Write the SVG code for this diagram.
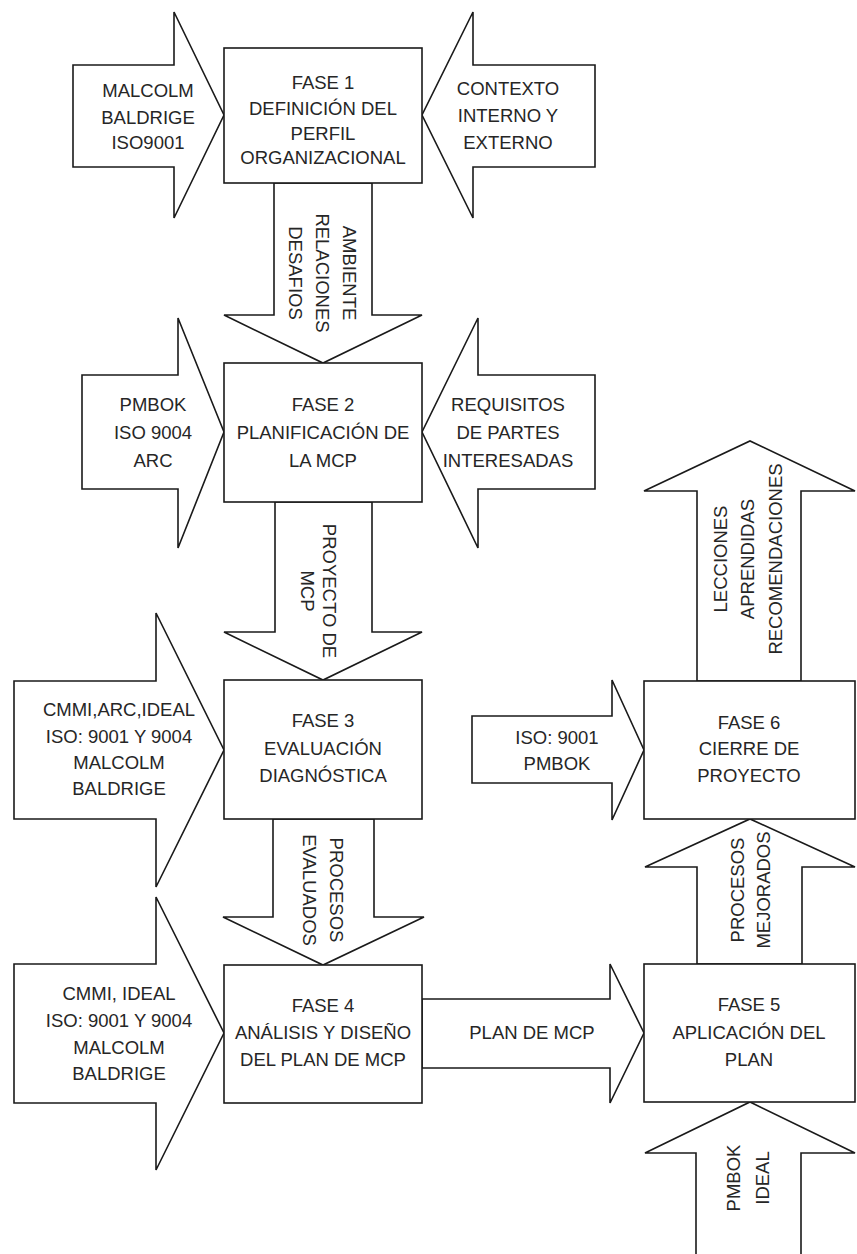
<svg xmlns="http://www.w3.org/2000/svg" width="857" height="1254" viewBox="0 0 857 1254">
<style>
.shp{fill:#fff;stroke:#1a1a1a;stroke-width:1.6;stroke-linejoin:miter}
.t{font-family:"Liberation Sans",Arial,sans-serif;font-size:18.5px;fill:#262626;text-anchor:middle}
</style>
<rect x="0" y="0" width="857" height="1254" fill="#fff"/>
<g id="connectors">
  <g id="c-f1-f2">
    <polygon class="shp" points="274,183 372,183 372,315 422,315 323,363 224,315 274,315"/>
    <text class="t" transform="translate(323,273) rotate(90)"><tspan x="0" y="-20.4">AMBIENTE</tspan><tspan x="0" y="6.6">RELACIONES</tspan><tspan x="0" y="33.6">DESAFIOS</tspan></text>
  </g>
  <g id="c-f2-f3">
    <polygon class="shp" points="275,502 372,502 372,632 422,632 323,680 224,632 275,632"/>
    <text class="t" transform="translate(319,591) rotate(90)"><tspan x="0" y="-4.4">PROYECTO DE</tspan><tspan x="0" y="17.6">MCP</tspan></text>
  </g>
  <g id="c-f3-f4">
    <polygon class="shp" points="273,819 374,819 374,917 424,917 323,965 223,917 273,917"/>
    <text class="t" transform="translate(323.5,890) rotate(90)"><tspan x="0" y="-6.9">PROCESOS</tspan><tspan x="0" y="20.1">EVALUADOS</tspan></text>
  </g>
  <g id="c-f4-f5">
    <polygon class="shp" points="422,999 610,999 610,964 644,1033 610,1103 610,1068 422,1068"/>
    <text class="t" x="532" y="1038.6">PLAN DE MCP</text>
  </g>
  <g id="c-f5-f6">
    <polygon class="shp" points="697,964 697,867 645,867 750,819 855,867 802,867 802,964"/>
    <text class="t" transform="translate(750,890) rotate(-90)"><tspan x="0" y="-6.4">PROCESOS</tspan><tspan x="0" y="19.6">MEJORADOS</tspan></text>
  </g>
  <g id="c-f6-out">
    <polygon class="shp" points="697,681 697,491 644,491 750,441 855,491 801,491 801,681"/>
    <text class="t" transform="translate(747.5,559) rotate(-90)"><tspan x="0" y="-20.9">LECCIONES</tspan><tspan x="0" y="6.6">APRENDIDAS</tspan><tspan x="0" y="34.1">RECOMENDACIONES</tspan></text>
  </g>
  <g id="c-in-f5">
    <polygon class="shp" points="696,1262 696,1153 645,1153 750,1102 855,1153 801,1153 801,1262"/>
    <text class="t" transform="translate(747.5,1178) rotate(-90)"><tspan x="0" y="-7.9">PMBOK</tspan><tspan x="0" y="21.1">IDEAL</tspan></text>
  </g>
</g>
<g id="in-malcolm">
  <polygon class="shp" points="73,65 174,65 174,12 224,115 174,218 174,167 73,167"/>
  <text class="t"><tspan x="148" y="96.6">MALCOLM</tspan><tspan x="148" y="123.6">BALDRIGE</tspan><tspan x="148" y="148.6">ISO9001</tspan></text>
</g>
<g id="in-contexto">
  <polygon class="shp" points="595,65 473,65 473,12 422,115 473,218 473,167 595,167"/>
  <text class="t"><tspan x="508" y="94.6">CONTEXTO</tspan><tspan x="508" y="121.6">INTERNO Y</tspan><tspan x="508" y="148.6">EXTERNO</tspan></text>
</g>
<g id="in-pmbok">
  <polygon class="shp" points="82,375 178,375 178,318 224,432 178,548 178,489 82,489"/>
  <text class="t"><tspan x="153" y="410.6">PMBOK</tspan><tspan x="153" y="438.6">ISO 9004</tspan><tspan x="153" y="466.6">ARC</tspan></text>
</g>
<g id="in-requisitos">
  <polygon class="shp" points="595,375 478,375 478,318 422,432 478,548 478,489 595,489"/>
  <text class="t"><tspan x="508" y="410.6">REQUISITOS</tspan><tspan x="508" y="438.6">DE PARTES</tspan><tspan x="508" y="466.6">INTERESADAS</tspan></text>
</g>
<g id="in-cmmi-arc">
  <polygon class="shp" points="14,681 156,681 156,613 224,750 156,887 156,819 14,819"/>
  <text class="t"><tspan x="119" y="715.6">CMMI,ARC,IDEAL</tspan><tspan x="119" y="742.6">ISO: 9001 Y 9004</tspan><tspan x="119" y="768.6">MALCOLM</tspan><tspan x="119" y="794.6">BALDRIGE</tspan></text>
</g>
<g id="in-cmmi-ideal">
  <polygon class="shp" points="14,964 156,964 156,897 224,1033 156,1170 156,1103 14,1103"/>
  <text class="t"><tspan x="119" y="999.6">CMMI, IDEAL</tspan><tspan x="119" y="1026.6">ISO: 9001 Y 9004</tspan><tspan x="119" y="1053.6">MALCOLM</tspan><tspan x="119" y="1079.6">BALDRIGE</tspan></text>
</g>
<g id="in-iso9001">
  <polygon class="shp" points="472,716 612,716 612,680 644,750 612,820 612,783 472,783"/>
  <text class="t"><tspan x="557" y="743.6">ISO: 9001</tspan><tspan x="557" y="769.6">PMBOK</tspan></text>
</g>
<g id="fase1">
  <rect class="shp" x="224" y="48" width="198" height="135"/>
  <text class="t"><tspan x="323" y="88.6">FASE 1</tspan><tspan x="323" y="114.6">DEFINICIÓN DEL</tspan><tspan x="323" y="139.6">PERFIL</tspan><tspan x="323" y="163.6">ORGANIZACIONAL</tspan></text>
</g>
<g id="fase2">
  <rect class="shp" x="224" y="363" width="198" height="139"/>
  <text class="t"><tspan x="323" y="410.6">FASE 2</tspan><tspan x="323" y="438.6">PLANIFICACIÓN DE</tspan><tspan x="323" y="466.6">LA MCP</tspan></text>
</g>
<g id="fase3">
  <rect class="shp" x="224" y="680" width="198" height="139"/>
  <text class="t"><tspan x="323" y="726.6">FASE 3</tspan><tspan x="323" y="754.6">EVALUACIÓN</tspan><tspan x="323" y="781.6">DIAGNÓSTICA</tspan></text>
</g>
<g id="fase4">
  <rect class="shp" x="224" y="965" width="198" height="138"/>
  <text class="t"><tspan x="323" y="1011.6">FASE 4</tspan><tspan x="323" y="1038.6">ANÁLISIS Y DISEÑO</tspan><tspan x="323" y="1065.6">DEL PLAN DE MCP</tspan></text>
</g>
<g id="fase5">
  <rect class="shp" x="644" y="964" width="211" height="138"/>
  <text class="t"><tspan x="749" y="1010.6">FASE 5</tspan><tspan x="749" y="1038.6">APLICACIÓN DEL</tspan><tspan x="749" y="1065.6">PLAN</tspan></text>
</g>
<g id="fase6">
  <rect class="shp" x="644" y="681" width="211" height="138"/>
  <text class="t"><tspan x="749" y="728.6">FASE 6</tspan><tspan x="749" y="754.6">CIERRE DE</tspan><tspan x="749" y="781.6">PROYECTO</tspan></text>
</g>
</svg>
